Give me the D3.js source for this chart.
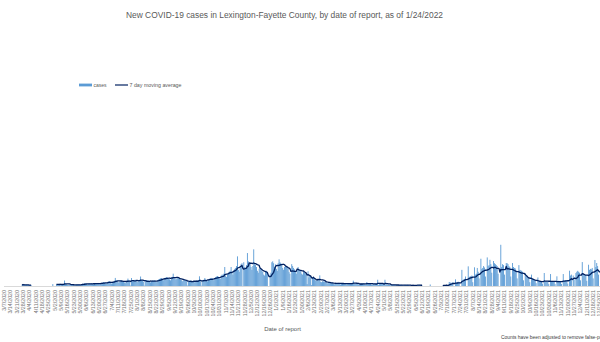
<!DOCTYPE html>
<html>
<head>
<meta charset="utf-8">
<script src="https://cdn.jsdelivr.net/npm/d3@7"></script>
<style>
  html, body { margin: 0; padding: 0; background: #ffffff; overflow: hidden; }
  svg { display: block; font-family: "Liberation Sans", Arial, sans-serif; }
</style>
</head>
<body>
<svg id="chart" width="600" height="342"></svg>
<script>
// ---- Data (daily new cases by date of report; null = no report) ----
const startDate = "2020-03-07";
const endDate = "2022-01-24";
const titleText = "New COVID-19 cases in Lexington-Fayette County, by date of report, as of 1/24/2022";
const seriesNames = ["cases", "7 day moving average"];
const xAxisTitle = "Date of report";
const footnote = "Counts have been adjusted to remove false-positives";
const N = null;

const mar2020 = [N,N,N,N,N,N,N,N,N,N,N,N,N,N,N,N,N,N,N,N,8,22,9,11,10];
const apr2020 = [12,9,11,8,10,9,N,N,N,N,N,N,N,N,N,N,N,N,N,N,N,N,N,N,N,N,N,N,N,20];
const may2020 = [N,N,N,15,18,14,16,25,12,10,17,20,58,22,18,12,9,15,17,14,16,13,8,6,7,14,16,15,18,10,8];
const jun2020 = [20,24,22,26,28,18,15,22,25,27,24,30,20,16,24,28,26,30,32,22,18,28,34,36,40,38,30,24,35,45];
const jul2020 = [48,52,40,25,30,45,55,85,60,58,42,35,48,55,62,52,50,38,30,45,58,78,60,55,5,84,50,62,58,66,60];
const aug2020 = [48,40,55,65,100,62,58,45,4,55,60,58,62,56,42,38,50,58,55,60,57,45,40,62,70,75,80,84,72,60,78];
const sep2020 = [85,90,95,88,80,70,60,92,96,130,95,80,70,78,88,82,75,70,62,50,58,66,62,60,58,5,45,52,58,55];
const oct2020 = [50,55,42,38,52,58,56,60,102,48,4,55,62,66,84,70,58,50,66,75,80,85,82,70,60,85,95,100,105,98,80];
const nov2020 = [75,110,120,118,130,200,110,95,125,140,150,160,200,140,120,165,180,190,210,312,170,150,200,230,240,0,250,200,180,220];
const dec2020 = [347,260,240,230,200,170,210,386,230,220,200,160,140,180,190,175,165,150,120,110,150,160,145,0,0,120,140,250,260,240,200];
const jan2021 = [228,180,160,240,281,250,240,230,190,170,200,210,205,200,185,150,130,0,230,210,190,175,150,130,165,200,175,170,160,130,120];
const feb2021 = [150,140,130,120,20,155,90,110,100,10,95,85,70,60,55,65,62,70,112,45,40,50,48,46,44,40,30,28];
const mar2021 = [38,35,32,30,34,22,18,30,32,28,30,33,20,16,28,30,26,29,31,18,15,26,28,25,30,27,20,56,24,26,25];
const apr2021 = [24,22,15,12,24,26,25,28,24,16,14,42,26,24,27,25,15,12,22,26,24,25,22,66,10,20,24,22,23,21];
const may2021 = [14,66,18,16,15,14,13,8,6,12,14,13,12,11,7,5,10,12,11,13,10,6,5,12,11,10,12,9,5,4,3];
const jun2021 = [10,11,9,10,5,4,9,10,12,9,8,5,N,N,N,N,N,N,N,N,16,N,N,N,N,N,N,N,N,N];
const jul2021 = [N,N,N,N,5,8,6,10,12,0,0,42,38,30,35,40,0,0,70,35,40,45,42,0,0,170,60,70,75,100,0];
const aug2021 = [0,207,95,100,105,110,40,0,197,120,130,190,150,80,0,287,180,190,210,195,100,0,301,210,220,276,230,140,0,263,240];
const sep2021 = [230,220,210,130,0,0,434,200,230,220,120,0,242,240,230,210,200,100,0,242,200,190,185,160,80,0,220,170,165,160];
const oct2021 = [150,60,0,137,110,100,95,90,40,0,120,75,70,65,60,30,0,90,55,50,52,48,25,0,137,50,48,50,45,20,0];
const nov2021 = [126,50,48,52,45,20,0,102,50,55,52,48,22,0,126,55,60,62,58,25,0,161,110,120,0,110,70,0,137,150];
const dec2021 = [160,150,140,60,0,252,130,125,120,115,55,0,224,170,180,175,190,80,0,274,200,242,210,120,0,0,221,260,280,300,250];

const cases = [].concat(mar2020, apr2020, may2020, jun2020, jul2020, aug2020, sep2020, oct2020,
  nov2020, dec2020, jan2021, feb2021, mar2021, apr2021, may2021, jun2021, jul2021, aug2021,
  sep2021, oct2021, nov2021, dec2021);

// ---- Build categories ----
const parse = d3.utcParse("%Y-%m-%d");
const fmt = d3.utcFormat("%-m/%-d/%Y");
const days = d3.utcDay.range(parse(startDate), d3.utcDay.offset(parse(endDate), 1));
const data = cases.map((v, i) => ({ date: days[i], value: v }));
// 7 day trailing moving average of the reported values
data.forEach((d, i) => {
  if (d.value === null) { d.ma = null; return; }
  const win = data.slice(Math.max(0, i - 6), i + 1).map(e => e.value).filter(v => v !== null);
  d.ma = d3.mean(win);
});
const tickDates = days.filter((d, i) => i % 7 === 0);

// ---- Scales ----
const svg = d3.select("#chart");
const x = d3.scaleBand().domain(days).range([3.5, 3.5 + days.length * 0.905]).padding(0);
const y = d3.scaleLinear().domain([0, 2000]).range([286, 96]);

// ---- Title ----
svg.append("text")
  .attr("x", 284.5).attr("y", 18)
  .attr("text-anchor", "middle")
  .attr("font-size", 8.4)
  .attr("fill", "#595959")
  .attr("textLength", 317).attr("lengthAdjust", "spacingAndGlyphs")
  .text(titleText);

// ---- Legend ----
const lg = svg.append("g").attr("font-size", 5).attr("fill", "#595959");
lg.append("rect").attr("x", 79).attr("y", 83.6).attr("width", 13).attr("height", 2.8).attr("fill", "#5B9BD5");
lg.append("text").attr("x", 93.5).attr("y", 86.7).text(seriesNames[0]);
lg.append("line").attr("x1", 115).attr("x2", 128).attr("y1", 85).attr("y2", 85)
  .attr("stroke", "#002060").attr("stroke-width", 1.2);
lg.append("text").attr("x", 129.5).attr("y", 86.7).attr("textLength", 52).attr("lengthAdjust", "spacingAndGlyphs").text(seriesNames[1]);

// ---- Bars ----
svg.append("g").selectAll("rect")
  .data(data.filter(d => d.value !== null && d.value > 0))
  .join("rect")
  .attr("x", d => x(d.date))
  .attr("width", x.bandwidth())
  .attr("y", d => y(d.value))
  .attr("height", d => y(0) - y(d.value))
  .attr("fill", "#5B9BD5");

// ---- X axis ----
const axisG = svg.append("g").attr("transform", `translate(0,${y(0)})`)
  .attr("font-family", "'Liberation Sans', Arial, sans-serif");
axisG.call(d3.axisBottom(x).tickValues(tickDates).tickFormat(fmt).tickSize(0).tickSizeOuter(0).tickPadding(0));
axisG.attr("font-family", "'Liberation Sans', Arial, sans-serif").attr("font-size", 5.3);
axisG.select(".domain").attr("stroke", "#d9d9d9").attr("stroke-width", 1);
axisG.selectAll(".tick text")
  .attr("transform", "rotate(-90)")
  .attr("text-anchor", "end")
  .attr("x", -4).attr("y", 0).attr("dy", "0.35em")
  .attr("fill", "#737373");

// ---- Moving average line ----
const line = d3.line()
  .defined(d => d.ma !== null)
  .x(d => x(d.date) + x.bandwidth() / 2)
  .y(d => y(d.ma));
svg.append("path").datum(data)
  .attr("d", line)
  .attr("fill", "none")
  .attr("stroke", "#002060")
  .attr("stroke-width", 1.3)
  .attr("stroke-linejoin", "round");

// ---- Axis title and note ----
svg.append("text").attr("x", 282.5).attr("y", 331).attr("text-anchor", "middle")
  .attr("font-size", 6).attr("fill", "#595959").text(xAxisTitle);
svg.append("text").attr("x", 501).attr("y", 339)
  .attr("font-size", 4.9).attr("fill", "#404040").text(footnote);
</script>
</body>
</html>
